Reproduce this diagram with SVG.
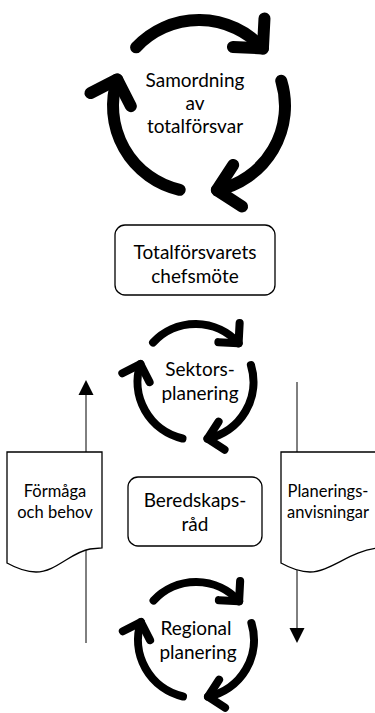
<svg xmlns="http://www.w3.org/2000/svg" xmlns:xlink="http://www.w3.org/1999/xlink" width="375" height="713" viewBox="0 0 375 713">
<style>
.t{font-family:Lato,"Open Sans","Liberation Sans",sans-serif;font-size:19px;fill:#000;text-anchor:middle}
.s{font-size:16.5px}
.box{fill:#fff;stroke:#000;stroke-width:1.3}
.doc{fill:#fff;stroke:#000;stroke-width:1.3}
.ln{stroke:#000;stroke-width:1;fill:none}
</style>
<defs>
<g id="seg">
<path d="M-62.9,-58.65 A86,86 0 0 1 63.91,-57.54"/>
<path d="M65.48,-87.5 L63.91,-57.54 L33.95,-59.1"/>
</g>
<g id="cyc" fill="none" stroke="#000" stroke-width="12" stroke-linecap="round" stroke-linejoin="round">
<use href="#seg"/>
<use href="#seg" transform="rotate(120)"/>
<use href="#seg" transform="rotate(240)"/>
</g>
</defs>
<g id="connectors">
<line class="ln" x1="86" y1="452" x2="86" y2="394"/>
<polygon points="86,380 78.5,395 93.5,395" fill="#000"/>
<line class="ln" x1="86" y1="549" x2="86" y2="643"/>
<line class="ln" x1="297" y1="382" x2="297" y2="452"/>
<line class="ln" x1="297" y1="570" x2="297" y2="629"/>
<polygon points="297,643 289.5,628 304.5,628" fill="#000"/>
</g>
<g id="samordning">
<use href="#cyc" transform="translate(199,106)"/>
<text class="t" x="195" y="87">Samordning</text>
<text class="t" x="195" y="110">av</text>
<text class="t" x="195" y="133">totalförsvar</text>
</g>
<g id="chefsmote">
<rect class="box" x="115" y="225" width="160" height="70" rx="10"/>
<text class="t" x="195" y="259">Totalförsvarets</text>
<text class="t" x="195" y="283">chefsmöte</text>
</g>
<g id="sektorsplanering">
<use href="#cyc" transform="translate(195.5,382) scale(0.674)"/>
<text class="t" x="200" y="376">Sektors-</text>
<text class="t" x="200" y="400">planering</text>
</g>
<g id="beredskapsrad">
<rect class="box" x="128" y="477" width="134" height="69" rx="10"/>
<text class="t" x="195" y="507">Beredskaps-</text>
<text class="t" x="195" y="531">råd</text>
</g>
<g id="regional">
<use href="#cyc" transform="translate(196,640) scale(0.674)"/>
<text class="t" x="196" y="635">Regional</text>
<text class="t" x="198" y="659">planering</text>
</g>
<g id="formaga">
<path class="doc" d="M7,452 H102 V548 L90,549 C71,552 56,572 36,572 C26,572 16,568 7,563 Z"/>
<text class="t s" x="55" y="497">Förmåga</text>
<text class="t s" x="55" y="518">och behov</text>
</g>
<g id="planeringsanvisningar">
<path class="doc" d="M281,452 H378 V548 C350,551 330,572 310,572 C300,572 290,568 281,563 Z"/>
<text class="t s" x="328" y="497">Planerings-</text>
<text class="t s" x="328" y="518">anvisningar</text>
</g>
</svg>
